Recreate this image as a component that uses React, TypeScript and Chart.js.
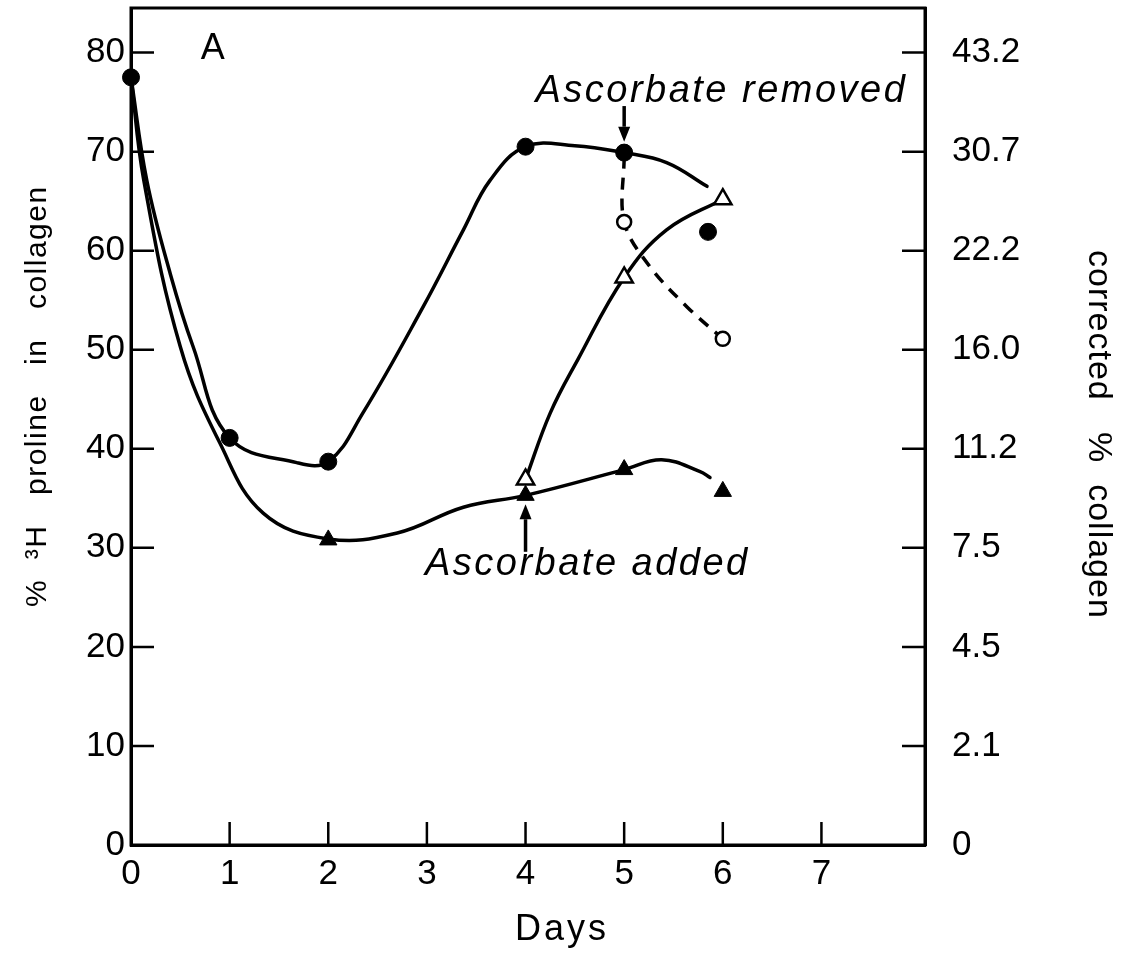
import React, { useEffect, useRef } from "react";
import { Chart, registerables } from "chart.js";

Chart.register(...registerables);

// ---- axis ticks ----
const dayTicks = [0, 1, 2, 3, 4, 5, 6, 7];
const leftTicks = [0, 10, 20, 30, 40, 50, 60, 70, 80];
const rightTickLabels = ["0", "2.1", "4.5", "7.5", "11.2", "16.0", "22.2", "30.7", "43.2"];

// ---- measured points ----
const filledCircleDays = [0, 1, 2, 4, 5, 5.85];
const filledCircleValues = [77.5, 41.1, 38.7, 70.5, 69.9, 61.9];
const filledTriangleDays = [2, 4, 5, 6];
const filledTriangleValues = [30.8, 35.3, 37.9, 35.7];
const openTriangleDays = [4, 5, 6];
const openTriangleValues = [36.9, 57.3, 65.2];
const openCircleDays = [5, 6];
const openCircleValues = [62.9, 51.1];

// ---- hand-drawn curves (traced) ----
const curveCircleDays = [0, 0.16, 0.4, 0.63, 1, 1.68, 2, 2.35, 2.96, 3.37, 3.64, 4, 4.5, 5, 5.43, 5.84];
const curveCircleValues = [77.5, 67.1, 57.6, 50.3, 41.1, 38.6, 38.7, 43.6, 54.3, 62.1, 67.1, 70.5, 70.6, 69.9, 68.9, 66.5];
const curveTriangleDays = [0, 0.13, 0.5, 0.9, 1.34, 2, 2.7, 3.37, 4, 5, 5.38, 5.77, 5.87];
const curveTriangleValues = [77.5, 67.1, 50.3, 40.6, 33.5, 30.9, 31.5, 34.1, 35.3, 37.9, 38.9, 37.7, 37.1];
const curveOpenTriangleDays = [4, 4.25, 4.53, 5, 5.43, 6];
const curveOpenTriangleValues = [36.9, 43.6, 49.0, 57.3, 62.1, 65.2];
const curveDashedDays = [5, 5, 5.26, 5.64, 6];
const curveDashedValues = [69.5, 62.9, 58.4, 54.3, 51.1];

const FONT = "'Liberation Sans', Arial, sans-serif";
const TICK_LEN = 23;

function pts(xs: number[], ys: number[]) {
  return xs.map((x, i) => ({ x, y: ys[i] }));
}

function drawArrow(ctx: CanvasRenderingContext2D, x: number, yFrom: number, yTo: number) {
  const dir = yTo > yFrom ? 1 : -1;
  const headLen = 15;
  const headHalf = 6;
  ctx.beginPath();
  ctx.moveTo(x, yFrom);
  ctx.lineTo(x, yTo - dir * headLen);
  ctx.stroke();
  ctx.beginPath();
  ctx.moveTo(x, yTo);
  ctx.lineTo(x - headHalf, yTo - dir * headLen);
  ctx.lineTo(x + headHalf, yTo - dir * headLen);
  ctx.closePath();
  ctx.fill();
}

function zeroPadding(s: any) {
  s.paddingTop = 0;
  s.paddingBottom = 0;
  s.paddingLeft = 0;
  s.paddingRight = 0;
}

const annotationPlugin = {
  id: "annotations",
  afterDraw(chart: any) {
    const { ctx, chartArea: a, scales } = chart;
    const xs = scales.x;
    const ys = scales.y;
    ctx.save();
    ctx.strokeStyle = "#000";
    ctx.fillStyle = "#000";
    ctx.lineWidth = 3;
    ctx.strokeRect(a.left, a.top, a.right - a.left, a.bottom - a.top);

    // inward ticks
    ctx.lineWidth = 2.5;
    ctx.beginPath();
    dayTicks.forEach((t) => {
      if (t === 0) return;
      const px = xs.getPixelForValue(t);
      ctx.moveTo(px, a.bottom);
      ctx.lineTo(px, a.bottom - TICK_LEN);
    });
    leftTicks.forEach((t) => {
      if (t === 0) return;
      const py = ys.getPixelForValue(t);
      ctx.moveTo(a.left, py);
      ctx.lineTo(a.left + TICK_LEN, py);
      ctx.moveTo(a.right, py);
      ctx.lineTo(a.right - TICK_LEN, py);
    });
    ctx.stroke();

    // arrows
    ctx.lineWidth = 3.5;
    drawArrow(ctx, xs.getPixelForValue(5), ys.getPixelForValue(74.6), ys.getPixelForValue(71));
    drawArrow(ctx, xs.getPixelForValue(4), ys.getPixelForValue(29.6), ys.getPixelForValue(34.4));

    // panel letter
    ctx.font = `36px ${FONT}`;
    ctx.textAlign = "center";
    ctx.textBaseline = "middle";
    ctx.fillText("A", xs.getPixelForValue(0.83), ys.getPixelForValue(80.4));

    // italic annotations
    ctx.font = `italic 38px ${FONT}`;
    ctx.textAlign = "left";
    ctx.textBaseline = "alphabetic";
    (ctx as any).letterSpacing = "2.5px";
    ctx.fillText("Ascorbate removed", xs.getPixelForValue(4.1), ys.getPixelForValue(75.0));
    ctx.fillText("Ascorbate added", xs.getPixelForValue(2.98), ys.getPixelForValue(27.3));

    // x axis title
    ctx.font = `36px ${FONT}`;
    (ctx as any).letterSpacing = "3px";
    ctx.textBaseline = "middle";
    ctx.fillText("Days", 515, 930);

    // left title
    ctx.save();
    ctx.font = `30px ${FONT}`;
    (ctx as any).letterSpacing = "1.5px";
    ctx.translate(38, 607);
    ctx.rotate(-Math.PI / 2);
    ctx.textAlign = "left";
    ctx.textBaseline = "middle";
    ctx.fillText("%  \u00B3H   proline   in   collagen", 0, 0);
    ctx.restore();

    // right title
    ctx.save();
    ctx.font = `34px ${FONT}`;
    (ctx as any).letterSpacing = "1px";
    ctx.translate(1098, 250);
    ctx.rotate(Math.PI / 2);
    ctx.textAlign = "left";
    ctx.textBaseline = "middle";
    ctx.fillText("corrected   %  collagen", 0, 0);
    ctx.restore();

    ctx.restore();
  },
};

export default function App() {
  const ref = useRef<HTMLCanvasElement>(null);

  useEffect(() => {
    const canvas = ref.current;
    if (!canvas) return;
    const tickFont = { family: FONT, size: 35 };
    const markerBase = { showLine: false, order: 0, clip: false };
    const curveBase = {
      showLine: true,
      pointRadius: 0,
      borderColor: "#000",
      borderWidth: 3.5,
      borderCapStyle: "round",
      borderJoinStyle: "round",
      tension: 0.4,
      order: 1,
      clip: false,
    };
    const chart = new Chart(canvas, {
      type: "scatter",
      data: {
        datasets: [
          {
            ...markerBase,
            label: "filled circles",
            data: pts(filledCircleDays, filledCircleValues),
            pointStyle: "circle",
            pointRadius: 8.5,
            backgroundColor: "#000",
            borderColor: "#000",
            borderWidth: 1,
          },
          {
            ...markerBase,
            label: "filled triangles",
            data: pts(filledTriangleDays, filledTriangleValues),
            pointStyle: "triangle",
            pointRadius: 10,
            backgroundColor: "#000",
            borderColor: "#000",
            borderWidth: 1,
          },
          {
            ...markerBase,
            label: "open triangles",
            data: pts(openTriangleDays, openTriangleValues),
            pointStyle: "triangle",
            pointRadius: 10,
            backgroundColor: "#fff",
            borderColor: "#000",
            borderWidth: 2.5,
          },
          {
            ...markerBase,
            label: "open circles",
            data: pts(openCircleDays, openCircleValues),
            pointStyle: "circle",
            pointRadius: 7,
            backgroundColor: "#fff",
            borderColor: "#000",
            borderWidth: 2.5,
          },
          {
            ...curveBase,
            label: "circle curve",
            data: pts(curveCircleDays, curveCircleValues),
          },
          {
            ...curveBase,
            label: "triangle curve",
            data: pts(curveTriangleDays, curveTriangleValues),
          },
          {
            ...curveBase,
            label: "open triangle curve",
            data: pts(curveOpenTriangleDays, curveOpenTriangleValues),
          },
          {
            ...curveBase,
            label: "dashed curve",
            data: pts(curveDashedDays, curveDashedValues),
            borderDash: [12, 9],
            borderCapStyle: "butt",
            tension: 0.35,
          },
        ] as any,
      },
      options: {
        responsive: false,
        animation: false,
        events: [],
        layout: { autoPadding: false, padding: { top: 8, left: 0, right: 0, bottom: 0 } },
        plugins: { legend: { display: false }, tooltip: { enabled: false } },
        scales: {
          x: {
            type: "linear",
            position: "bottom",
            min: 0,
            max: 8.05,
            afterBuildTicks: (s: any) => {
              s.ticks = dayTicks.map((v) => ({ value: v }));
            },
            afterFit: (s: any) => {
              s.height = 109;
              zeroPadding(s);
            },
            grid: { drawOnChartArea: false, drawTicks: false },
            border: { display: true, color: "#000", width: 3 },
            ticks: {
              color: "#000",
              padding: 8,
              font: tickFont,
              maxRotation: 0,
              autoSkip: false,
              callback: (v: any) => String(v),
            },
          },
          y: {
            type: "linear",
            position: "left",
            min: 0,
            max: 84.5,
            afterBuildTicks: (s: any) => {
              s.ticks = leftTicks.map((v) => ({ value: v }));
            },
            afterFit: (s: any) => {
              s.width = 131;
              zeroPadding(s);
            },
            grid: { drawOnChartArea: false, drawTicks: false },
            border: { display: true, color: "#000", width: 3 },
            ticks: {
              color: "#000",
              padding: 6,
              font: tickFont,
              autoSkip: false,
              callback: (v: any) => String(v),
            },
          },
          y2: {
            type: "linear",
            position: "right",
            min: 0,
            max: 84.5,
            afterBuildTicks: (s: any) => {
              s.ticks = leftTicks.map((v) => ({ value: v }));
            },
            afterFit: (s: any) => {
              s.width = 199;
              zeroPadding(s);
            },
            grid: { drawOnChartArea: false, drawTicks: false },
            border: { display: true, color: "#000", width: 3 },
            ticks: {
              color: "#000",
              padding: 27,
              font: tickFont,
              autoSkip: false,
              callback: (v: any) => rightTickLabels[leftTicks.indexOf(Number(v))] ?? "",
            },
          },
        },
      } as any,
      plugins: [annotationPlugin],
    });
    return () => chart.destroy();
  }, []);

  return (
    <div style={{ position: "absolute", left: 0, top: 0, width: 1124, height: 954, background: "#fff" }}>
      <canvas ref={ref} width={1124} height={954} style={{ display: "block" }} />
    </div>
  );
}
